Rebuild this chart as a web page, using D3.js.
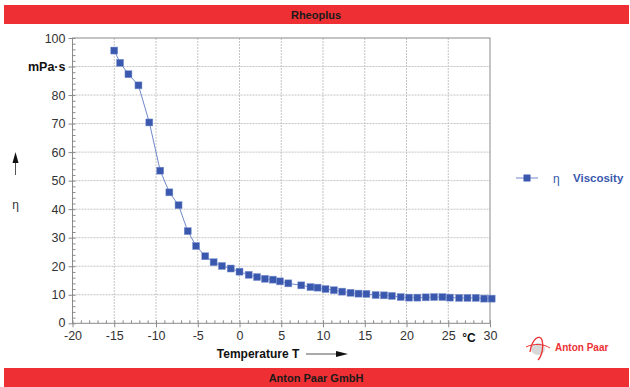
<!DOCTYPE html>
<html>
<head>
<meta charset="utf-8">
<script src="https://cdn.jsdelivr.net/npm/d3@7"></script>
<style>
  body { margin: 0; background: #fff; }
  svg { display: block; font-family: "Liberation Sans", Arial, sans-serif; }
</style>
</head>
<body>
<div id="chart"></div>
<script>
// Data
var temperature = [-15, -14.3, -13.3, -12.1, -10.8, -9.5, -8.4, -7.3, -6.2, -5.2, -4.1, -3.1, -2.1, -1.05, 0,
    1.1, 2.1, 3.05, 4.0, 4.85, 5.85, 7.4, 8.5, 9.35, 10.3, 11.3, 12.3, 13.3, 14.25, 15.2,
    16.3, 17.3, 18.25, 19.3, 20.3, 21.3, 22.3, 23.3, 24.3, 25.2, 26.3, 27.3, 28.3, 29.3, 30.2];
var viscosity = [95.6, 91.3, 87.3, 83.4, 70.4, 53.5, 45.9, 41.4, 32.3, 27.1, 23.5, 21.4, 20.1, 19.2, 18.1,
    17.0, 16.2, 15.6, 15.3, 14.7, 14.0, 13.3, 12.7, 12.5, 12.0, 11.6, 11.1, 10.7, 10.4, 10.3,
    9.9, 9.8, 9.6, 9.2, 9.0, 9.0, 9.1, 9.2, 9.2, 9.0, 8.9, 8.9, 8.9, 8.65, 8.65];
var xTicks = [-20, -15, -10, -5, 0, 5, 10, 15, 20, 25, 30];
var yTicks = [0, 10, 20, 30, 40, 50, 60, 70, 80, 90, 100];

var width = 630, height = 387;
var plot = { left: 72.5, right: 490, top: 38, bottom: 323.3 };
var red = '#ee3034', blue = '#3a58ad', lineBlue = '#7088cc', gridCol = '#c4c4c4', axisCol = '#8a8a8a';

var svg = d3.select('#chart').append('svg').attr('width', width).attr('height', height);

var x = d3.scaleLinear().domain([-20, 30]).range([plot.left, plot.right]);
var y = d3.scaleLinear().domain([0, 100]).range([plot.bottom, plot.top]);

// Header / footer bars
svg.append('rect').attr('x', 4).attr('y', 5).attr('width', 625).attr('height', 19).attr('fill', red);
svg.append('text').attr('x', 316).attr('y', 18.5).attr('text-anchor', 'middle')
    .style('font-size', '11px').style('font-weight', 'bold').style('fill', '#1a1a1a').text('Rheoplus');
svg.append('rect').attr('x', 4).attr('y', 368).attr('width', 625).attr('height', 19).attr('fill', red);
svg.append('text').attr('x', 316).attr('y', 381.5).attr('text-anchor', 'middle')
    .style('font-size', '11px').style('font-weight', 'bold').style('fill', '#1a1a1a').text('Anton Paar GmbH');

// Grid
var grid = svg.append('g');
grid.selectAll('.gx').data(xTicks.slice(1, -1)).enter().append('line')
    .attr('x1', function(d) { return x(d); }).attr('x2', function(d) { return x(d); })
    .attr('y1', plot.top).attr('y2', plot.bottom)
    .attr('stroke', gridCol).attr('stroke-dasharray', '2,1');
grid.selectAll('.gy').data(yTicks.slice(1, -1)).enter().append('line')
    .attr('x1', plot.left).attr('x2', plot.right)
    .attr('y1', function(d) { return y(d); }).attr('y2', function(d) { return y(d); })
    .attr('stroke', gridCol).attr('stroke-dasharray', '2,1');

// Frame
svg.append('rect').attr('x', plot.left).attr('y', plot.top)
    .attr('width', plot.right - plot.left).attr('height', plot.bottom - plot.top)
    .attr('fill', 'none').attr('stroke', axisCol);

// X axis: labels + major ticks downwards, minor ticks upwards
var gx = svg.append('g').attr('transform', 'translate(0,' + plot.bottom + ')')
    .call(d3.axisBottom(x).tickValues(xTicks).tickSize(4).tickPadding(4)
        .tickFormat(function(d) { return String(d); }));
var gxMinor = svg.append('g').attr('transform', 'translate(0,' + plot.bottom + ')')
    .call(d3.axisTop(x).tickValues(d3.range(-20, 31, 1)).tickSize(3).tickFormat(''));
// Y axis
var gy = svg.append('g').attr('transform', 'translate(' + plot.left + ',0)')
    .call(d3.axisLeft(y).tickValues(yTicks).tickSize(4).tickPadding(3)
        .tickFormat(function(d) { return d === 90 ? 'mPa·s' : String(d); }));
var gyMinor = svg.append('g').attr('transform', 'translate(' + plot.left + ',0)')
    .call(d3.axisRight(y).tickValues(d3.range(0, 101, 2)).tickSize(3).tickFormat(''));

[gx, gxMinor, gy, gyMinor].forEach(function(g) {
    g.select('.domain').remove();
    g.selectAll('line').attr('stroke', axisCol);
    g.selectAll('text').style('font-size', '12.5px').style('fill', '#333')
        .style('font-family', '"Liberation Sans", Arial, sans-serif');
});
gy.selectAll('text').filter(function(d) { return d === 90; })
    .style('font-weight', 'bold').style('fill', '#111');
gy.selectAll('text').filter(function(d) { return d === 0; }).attr('dy', '0.25em');

// Axis titles
svg.append('text').attr('x', 469).attr('y', 342).attr('text-anchor', 'middle')
    .style('font-size', '12px').style('font-weight', 'bold').style('fill', '#111').text('°C');
svg.append('text').attr('x', 258).attr('y', 358).attr('text-anchor', 'middle')
    .style('font-size', '12px').style('font-weight', 'bold').style('fill', '#111').text('Temperature T');
svg.append('line').attr('x1', 306).attr('x2', 338).attr('y1', 354).attr('y2', 354).attr('stroke', '#555');
svg.append('path').attr('d', 'M336,351L348,354L336,357Z').attr('fill', '#111');

svg.append('line').attr('x1', 15.5).attr('x2', 15.5).attr('y1', 175).attr('y2', 160).attr('stroke', '#555');
svg.append('path').attr('d', 'M12.5,163L15.5,152L18.5,163Z').attr('fill', '#111');
svg.append('text').attr('x', 15.5).attr('y', 209).attr('text-anchor', 'middle')
    .style('font-size', '12px').style('fill', '#333').text('η');

// Series
var pts = temperature.map(function(t, i) { return [t, viscosity[i]]; });
var line = d3.line().x(function(d) { return x(d[0]); }).y(function(d) { return y(d[1]); });
svg.append('path').datum(pts).attr('d', line).attr('fill', 'none').attr('stroke', lineBlue).attr('stroke-width', 1);
svg.append('g').selectAll('rect').data(pts).enter().append('rect')
    .attr('x', function(d) { return x(d[0]) - 3.5; })
    .attr('y', function(d) { return y(d[1]) - 3.5; })
    .attr('width', 7).attr('height', 7)
    .attr('fill', blue).attr('stroke', '#8096d2').attr('stroke-width', 0.5);

// Legend
var lg = svg.append('g').attr('transform', 'translate(516,178)');
lg.append('line').attr('x1', 0).attr('x2', 22).attr('y1', 0).attr('y2', 0).attr('stroke', lineBlue);
lg.append('rect').attr('x', 7.5).attr('y', -3.5).attr('width', 7).attr('height', 7).attr('fill', blue);
lg.append('text').attr('x', 37).attr('y', 5).style('font-size', '12px').style('fill', blue).text('η');
lg.append('text').attr('x', 57).attr('y', 4).style('font-size', '11.5px').style('font-weight', 'bold')
    .style('fill', blue).text('Viscosity');

// Logo
var logo = svg.append('g').attr('transform', 'translate(538,346)');
logo.append('ellipse').attr('cx', 0).attr('cy', 3).attr('rx', 7).attr('ry', 6).attr('fill', '#d8d8d8');
logo.append('path').attr('d', 'M-8,6 C-6,-8 2,-12 4,-6 C6,0 4,10 0,14').attr('fill', 'none')
    .attr('stroke', red).attr('stroke-width', 1.3);
logo.append('path').attr('d', 'M-12,1 C-4,-3 6,-2 12,2').attr('fill', 'none')
    .attr('stroke', red).attr('stroke-width', 1);
svg.append('text').attr('x', 555).attr('y', 351).style('font-size', '10px').style('font-weight', 'bold')
    .style('fill', red).text('Anton Paar');
</script>
</body>
</html>
